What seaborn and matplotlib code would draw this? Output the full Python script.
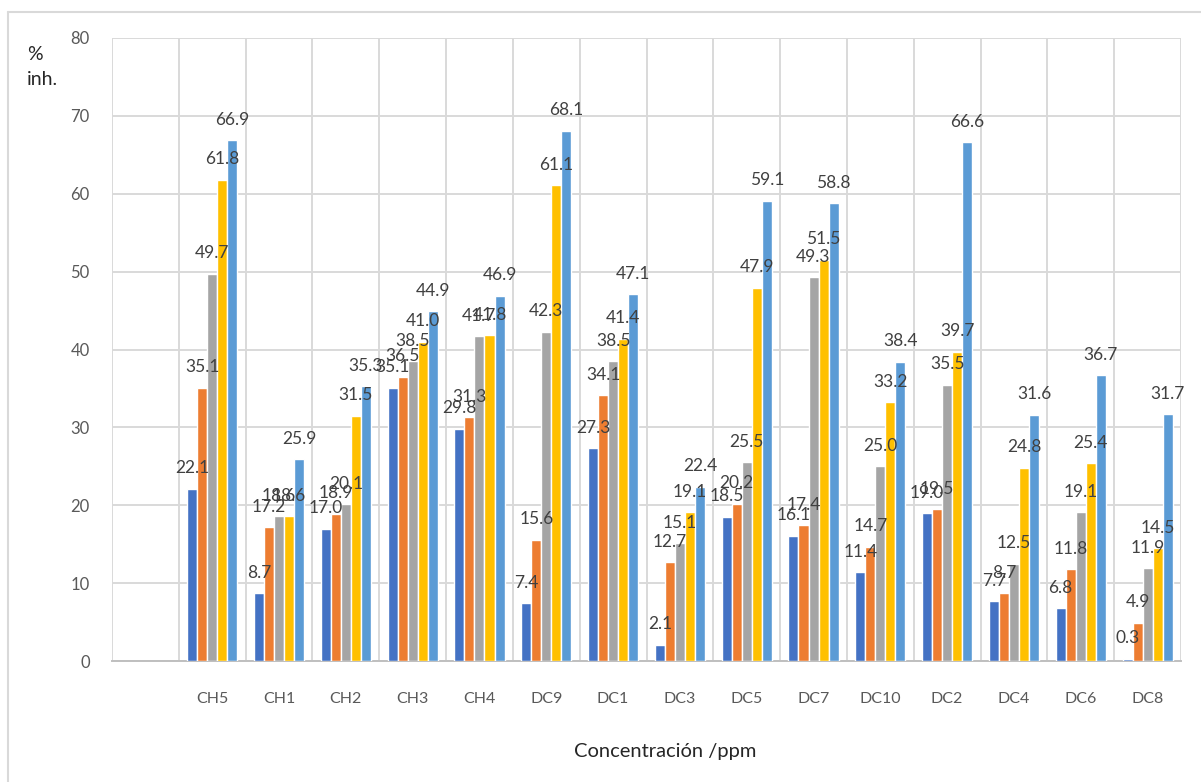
import matplotlib
matplotlib.use("Agg")
import matplotlib.pyplot as plt
from matplotlib.lines import Line2D
from matplotlib.ticker import MultipleLocator, FixedLocator
import numpy as np
import pandas as pd
import seaborn as sns

# Compounds (the leading blank slot is an empty category on the axis)
categories = ["CH5", "CH1", "CH2", "CH3", "CH4", "DC9", "DC1", "DC3",
              "DC5", "DC7", "DC10", "DC2", "DC4", "DC6", "DC8"]
series_names = ["c1", "c2", "c3", "c4", "c5"]

s1 = [22.1, 8.7, 17.0, 35.1, 29.8, 7.4, 27.3, 2.1, 18.5, 16.1, 11.4, 19.0, 7.7, 6.8, 0.3]
s2 = [35.1, 17.2, 18.9, 36.5, 31.3, 15.6, 34.1, 12.7, 20.2, 17.4, 14.7, 19.5, 8.7, 11.8, 4.9]
s3 = [49.7, 18.6, 20.1, 38.5, 41.7, 42.3, 38.5, 15.1, 25.5, 49.3, 25.0, 35.5, 12.5, 19.1, 11.9]
s4 = [61.8, 18.6, 31.5, 41.0, 41.8, 61.1, 41.4, 19.1, 47.9, 51.5, 33.2, 39.7, 24.8, 25.4, 14.5]
s5 = [66.9, 25.9, 35.3, 44.9, 46.9, 68.1, 47.1, 22.4, 59.1, 58.8, 38.4, 66.6, 31.6, 36.7, 31.7]

colors = ["#4472C4", "#ED7D31", "#A5A5A5", "#FFC000", "#5B9BD5"]

rows = []
for name, vals in zip(series_names, [s1, s2, s3, s4, s5]):
    rows.append({"Compuesto": " ", "Serie": name, "Valor": np.nan})
    for cat, v in zip(categories, vals):
        rows.append({"Compuesto": cat, "Serie": name, "Valor": v})
df = pd.DataFrame(rows)
order = [" "] + categories

sns.set_theme(style="white")
plt.rcParams["font.family"] = ["Lato", "DejaVu Sans"]

fig = plt.figure(figsize=(12.01, 7.82), dpi=100)
ax = fig.add_axes([112 / 1201, 1 - 661 / 782, (1181 - 112) / 1201, (661 - 38) / 782])

sns.barplot(data=df, x="Compuesto", y="Valor", hue="Serie", order=order,
            hue_order=series_names, palette=colors, width=0.75, gap=0,
            saturation=1, errorbar=None, legend=False, ax=ax, zorder=3)

for cont in ax.containers:
    ax.bar_label(cont, fmt="%.1f", padding=9, fontsize=12.5, color="#404040", zorder=4)

ax.set_ylim(0, 80)
ax.set_xlim(-0.5, len(order) - 0.5)
ax.yaxis.set_major_locator(MultipleLocator(10))
ax.xaxis.set_minor_locator(FixedLocator(np.arange(-0.5, len(order), 1.0)))

grid_c = "#D9D9D9"
ax.grid(axis="y", which="major", color=grid_c, linewidth=1.4, zorder=0)
ax.grid(axis="x", which="minor", color=grid_c, linewidth=1.4, zorder=0)
ax.grid(axis="x", which="major", visible=False)
for side in ["left", "right", "top"]:
    ax.spines[side].set_visible(False)
ax.spines["bottom"].set_color("#BFBFBF")
ax.spines["bottom"].set_linewidth(1.4)

ax.tick_params(axis="both", which="both", length=0)
ax.tick_params(axis="y", labelsize=12, labelcolor="#595959", pad=16)
ax.tick_params(axis="x", labelsize=11.5, labelcolor="#595959", pad=22)
ax.set_xlabel("")
ax.set_ylabel("")

fig.text(27 / 1201, 1 - 67 / 782, "%\ninh.", fontsize=14, color="#262626",
         ha="left", va="center", linespacing=1.6)
fig.text(665 / 1201, 1 - 751 / 782, "Concentración /ppm", fontsize=14.5,
         color="#262626", ha="center", va="center")

# Chart area frame
fig.add_artist(Line2D([8 / 1201, 8 / 1201], [0, 1 - 12 / 782], transform=fig.transFigure,
                      color=grid_c, linewidth=1.5))
fig.add_artist(Line2D([8 / 1201, 1], [1 - 12 / 782, 1 - 12 / 782], transform=fig.transFigure,
                      color=grid_c, linewidth=1.5))

fig.savefig("out.png", dpi=100)
